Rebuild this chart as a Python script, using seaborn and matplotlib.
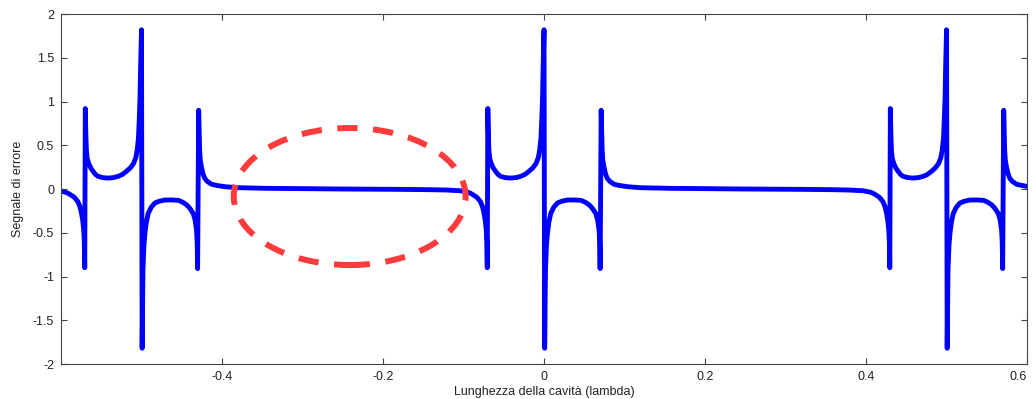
import matplotlib
matplotlib.use("Agg")
import matplotlib.pyplot as plt
import seaborn as sns
import pandas as pd
from matplotlib.patches import Ellipse

# ---- data (cavity length in lambda, error signal) ----
# group around the resonance at -0.5
x_left = [-0.600, -0.595, -0.591,
          -0.5875, -0.5840, -0.5820, -0.5790, -0.5765, -0.5747, -0.5730, -0.5717, -0.5710, -0.5705,
          -0.5698, -0.5692, -0.5685, -0.5675, -0.5655, -0.5630, -0.5600, -0.5570, -0.5540, -0.5480, -0.5420, -0.5350,
          -0.5290, -0.5240, -0.5190, -0.5140, -0.5100, -0.5070, -0.5053, -0.5038, -0.5028, -0.5018, -0.5012, -0.5000,
          -0.4992, -0.4982, -0.4970, -0.4958, -0.4940, -0.4917, -0.4880, -0.4834, -0.4780, -0.4710,
          -0.4620, -0.4540, -0.4490, -0.4440, -0.4400, -0.4357, -0.4335, -0.4316, -0.4308, -0.4303,
          -0.4290, -0.4284, -0.4278, -0.4270, -0.4255, -0.4235, -0.4213, -0.4180, -0.4130, -0.4060, -0.3960, -0.3800, -0.3450, -0.3000]
y_left = [-0.025, -0.035, -0.05,
          -0.07, -0.09, -0.11, -0.145, -0.20, -0.27, -0.36, -0.47, -0.62, -0.90,
          0.92, 0.65, 0.45, 0.35, 0.29, 0.24, 0.20, 0.165, 0.145, 0.13, 0.125, 0.13,
          0.145, 0.165, 0.20, 0.24, 0.29, 0.36, 0.45, 0.58, 0.79, 1.05, 1.36, 1.82,
          -1.82, -0.93, -0.65, -0.51, -0.38, -0.28, -0.21, -0.16, -0.14, -0.126,
          -0.125, -0.13, -0.15, -0.18, -0.22, -0.28, -0.35, -0.47, -0.62, -0.91,
          0.90, 0.65, 0.45, 0.33, 0.25, 0.17, 0.12, 0.085, 0.054, 0.04, 0.026, 0.015, 0.008, 0.004]

# flat stretch between the groups
x_gap1 = [-0.2500, -0.1800, -0.1400, -0.1200]
y_gap1 = [0.0, -0.004, -0.008, -0.012]

# group around the resonance at 0
x_mid = [-0.104, -0.095, -0.091,
         -0.0875, -0.0840, -0.0820, -0.0790, -0.0765, -0.0747, -0.0730, -0.0717, -0.0710, -0.0705,
         -0.0698, -0.0692, -0.0685, -0.0675, -0.0655, -0.0630, -0.0600, -0.0570, -0.0540, -0.0480, -0.0420, -0.0350,
         -0.0290, -0.0240, -0.0190, -0.0140, -0.0100, -0.0070, -0.0053, -0.0038, -0.0028, -0.0018, -0.0012, 0.0000,
         0.0008, 0.0018, 0.0030, 0.0042, 0.0060, 0.0083, 0.0120, 0.0166, 0.0220, 0.0290,
         0.0380, 0.0460, 0.0510, 0.0560, 0.0600, 0.0643, 0.0665, 0.0684, 0.0692, 0.0697,
         0.0710, 0.0716, 0.0722, 0.0730, 0.0745, 0.0765, 0.0787, 0.0820, 0.0870, 0.0940, 0.1040, 0.1200, 0.1550, 0.2000]
y_mid = [-0.02, -0.035, -0.05,
         -0.07, -0.09, -0.11, -0.145, -0.20, -0.27, -0.36, -0.47, -0.62, -0.90,
         0.92, 0.65, 0.45, 0.35, 0.29, 0.24, 0.20, 0.165, 0.145, 0.13, 0.125, 0.13,
         0.145, 0.165, 0.20, 0.24, 0.29, 0.36, 0.45, 0.58, 0.79, 1.05, 1.36, 1.82,
         -1.82, -0.93, -0.65, -0.51, -0.38, -0.28, -0.21, -0.16, -0.14, -0.126,
         -0.125, -0.13, -0.15, -0.18, -0.22, -0.28, -0.35, -0.47, -0.62, -0.91,
         0.90, 0.65, 0.45, 0.33, 0.25, 0.17, 0.12, 0.085, 0.054, 0.04, 0.026, 0.015, 0.008, 0.004]

x_gap2 = [0.2500, 0.3200, 0.3600, 0.3800]
y_gap2 = [0.0, -0.004, -0.008, -0.012]

# group around the resonance at +0.5
x_right = [0.396, 0.405, 0.409,
           0.4125, 0.4160, 0.4180, 0.4210, 0.4235, 0.4253, 0.4270, 0.4283, 0.4290, 0.4295,
           0.4302, 0.4308, 0.4315, 0.4325, 0.4345, 0.4370, 0.4400, 0.4430, 0.4460, 0.4520, 0.4580, 0.4650,
           0.4710, 0.4760, 0.4810, 0.4860, 0.4900, 0.4930, 0.4947, 0.4962, 0.4972, 0.4982, 0.4988, 0.5000,
           0.5008, 0.5018, 0.5030, 0.5042, 0.5060, 0.5083, 0.5120, 0.5166, 0.5220, 0.5290,
           0.5380, 0.5460, 0.5510, 0.5560, 0.5600, 0.5643, 0.5665, 0.5684, 0.5692, 0.5697,
           0.5710, 0.5716, 0.5722, 0.5730, 0.5745, 0.5765, 0.5787, 0.5820, 0.5870, 0.5940, 0.6000]
y_right = [-0.02, -0.035, -0.05,
           -0.07, -0.09, -0.11, -0.145, -0.20, -0.27, -0.36, -0.47, -0.62, -0.90,
           0.92, 0.65, 0.45, 0.35, 0.29, 0.24, 0.20, 0.165, 0.145, 0.13, 0.125, 0.13,
           0.145, 0.165, 0.20, 0.24, 0.29, 0.36, 0.45, 0.58, 0.79, 1.05, 1.36, 1.82,
           -1.82, -0.93, -0.65, -0.51, -0.38, -0.28, -0.21, -0.16, -0.14, -0.126,
           -0.125, -0.13, -0.15, -0.18, -0.22, -0.28, -0.35, -0.47, -0.62, -0.91,
           0.90, 0.65, 0.45, 0.33, 0.25, 0.17, 0.12, 0.085, 0.054, 0.04, 0.03]

x_ticks = [-0.4, -0.2, 0, 0.2, 0.4, 0.6]
x_ticklabels = ["-0.4", "-0.2", "0", "0.2", "0.4", "0.6"]
y_ticks = [-2, -1.5, -1, -0.5, 0, 0.5, 1, 1.5, 2]
y_ticklabels = ["-2", "-1.5", "-1", "-0.5", "0", "0.5", "1", "1.5", "2"]

# highlighted region (ellipse): centre, width, height in data units
ell_center = (-0.2414, -0.086)
ell_width = 0.288
ell_height = 1.566

# ---- plotting ----
sns.set_style("ticks")
plt.rcParams["font.family"] = ["Liberation Sans", "DejaVu Sans"]

xs = x_left + x_gap1 + x_mid + x_gap2 + x_right
ys = y_left + y_gap1 + y_mid + y_gap2 + y_right
assert len(xs) == len(ys), (len(x_left), len(y_left), len(x_mid), len(y_mid), len(x_right), len(y_right))
df = pd.DataFrame({"x": xs, "y": ys})

fig = plt.figure(figsize=(10.32, 3.99), dpi=100)
ax = fig.add_axes([0.0591, 0.0877, 0.9361, 0.8772])

sns.lineplot(data=df, x="x", y="y", sort=False, estimator=None, color="#0000FF",
             lw=3.5, ax=ax, solid_joinstyle="round", solid_capstyle="round")

ax.add_patch(Ellipse(ell_center, ell_width, ell_height, fill=False,
                     edgecolor="#FF3B3B", lw=4.3, linestyle=(0, (3.4, 2.6)), zorder=5))

ax.set_xlim(-0.6, 0.6)
ax.set_ylim(-2, 2)
ax.set_xticks(x_ticks)
ax.set_xticklabels(x_ticklabels)
ax.set_yticks(y_ticks)
ax.set_yticklabels(y_ticklabels)

for s in ax.spines.values():
    s.set_visible(True)
    s.set_color("#444444")
    s.set_linewidth(0.8)

ax.tick_params(direction="in", top=True, right=True, length=4.5, width=0.8,
               color="#444444", labelcolor="#222222", labelsize=9, pad=5)
# keep the last x label inside the picture
ax.get_xticklabels()[-1].set_horizontalalignment("right")

ax.set_xlabel("Lunghezza della cavità (lambda)", fontsize=9, color="#222222", labelpad=2)
ax.set_ylabel("Segnale di errore", fontsize=9, color="#222222", labelpad=6)

fig.savefig("out.png", dpi=100)
